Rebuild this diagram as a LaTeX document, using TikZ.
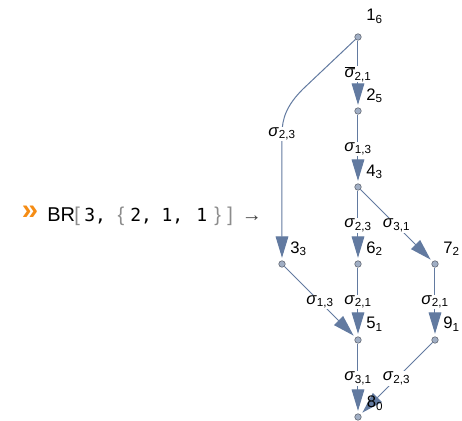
\documentclass[tikz,border=0pt]{standalone}
\usepackage{fontspec}
\setmainfont{Liberation Sans}
\newfontfamily\monofont{DejaVu Sans Mono}
\usepackage{tikz}
\usetikzlibrary{arrows.meta}

\definecolor{edgeblue}{RGB}{98,122,160}
\definecolor{vtxfill}{RGB}{160,174,196}
\definecolor{vtxdraw}{RGB}{85,90,100}
\definecolor{promptorange}{RGB}{245,140,20}
\definecolor{brgrey}{RGB}{140,140,140}

\newcommand{\sig}[1]{\textit{σ}\textsubscript{#1}}
\newcommand{\sigbar}[1]{$\overline{\mbox{\itshape σ}}$\textsubscript{#1}}
\newcommand{\mono}[1]{{\monofont\fontsize{13.5}{16}\selectfont #1}}

\begin{document}
\begin{tikzpicture}[x=0.75pt,y=-0.75pt,
    vtx/.style={shape=circle, inner sep=0pt, minimum size=4.9pt, draw=vtxdraw, fill=vtxfill, line width=0.4pt},
    vlab/.style={anchor=base west, inner sep=0pt, font=\fontsize{12.5}{14}\selectfont},
    elab/.style={fill=white, inner sep=0.5pt, font=\fontsize{12.5}{14}\selectfont},
    edge/.style={draw=edgeblue, line width=0.75pt, -{Triangle[length=16pt,width=9.5pt]}, shorten >=2pt}]
    \useasboundingbox (0,0) rectangle (462,421);

    % input line
    \node[text=promptorange, font=\fontsize{22}{24}\bfseries] (prompt) at (30,213) {»};
    \node[anchor=base west, inner sep=0pt, font=\fontsize{15}{17}\selectfont] (cmd) at (47,221)
      {\makebox[20.25pt][l]{BR}\makebox[7.5pt][l]{\color{brgrey}[}%
       \makebox[25pt][l]{\mono{3,}}%
       \makebox[9.5pt][l]{\color{brgrey}\{}%
       \makebox[23.5pt][l]{\mono{2,}}%
       \makebox[26pt][l]{\mono{1,}}%
       \makebox[13.5pt][l]{\mono{1}}%
       \makebox[9.75pt][l]{\color{brgrey}\}}%
       \makebox[11pt][l]{\color{brgrey}]}{\color{darkgray}→}};

    % vertices
    \node[vtx] (n1) at (358,37) {};
    \node[vtx] (n2) at (358,111) {};
    \node[vtx] (n4) at (358,187) {};
    \node[vtx] (n3) at (282,264) {};
    \node[vtx] (n6) at (358,264) {};
    \node[vtx] (n7) at (435,264) {};
    \node[vtx] (n5) at (358,340) {};
    \node[vtx] (n9) at (435,340) {};
    \node[vtx] (n8) at (358,417) {};

    % edges
    \draw[edge] (n1) -- node[elab] (e12) {\sigbar{2,1}} (n2);
    \draw[edge] (n2) -- node[elab] (e24) {\sig{1,3}} (n4);
    \draw[edge] (n1) -- (303,89) .. controls (287,105) and (282,118) .. (282,134)
        -- node[elab,pos=0] (e13) {\sig{2,3}} (n3);
    \draw[edge] (n4) -- node[elab] (e46) {\sig{2,3}} (n6);
    \draw[edge] (n4) -- node[elab] (e47) {\sig{3,1}} (n7);
    \draw[edge] (n3) -- node[elab] (e35) {\sig{1,3}} (n5);
    \draw[edge] (n6) -- node[elab] (e65) {\sig{2,1}} (n5);
    \draw[edge] (n7) -- node[elab] (e79) {\sig{2,1}} (n9);
    \draw[edge] (n5) -- node[elab] (e58) {\sig{3,1}} (n8);
    \draw[edge] (n9) -- node[elab] (e98) {\sig{2,3}} (n8);

    % vertex labels
    \node[vlab] (l1) at ([xshift=6pt,yshift=12pt]n1) {1\textsubscript{6}};
    \node[vlab] (l2) at ([xshift=6pt,yshift=8.25pt]n2) {2\textsubscript{5}};
    \node[vlab] (l4) at ([xshift=6pt,yshift=8.25pt]n4) {4\textsubscript{3}};
    \node[vlab] (l3) at ([xshift=6pt,yshift=8.25pt]n3) {3\textsubscript{3}};
    \node[vlab] (l6) at ([xshift=6pt,yshift=8.25pt]n6) {6\textsubscript{2}};
    \node[vlab] (l7) at ([xshift=6pt,yshift=8.25pt]n7) {7\textsubscript{2}};
    \node[vlab] (l5) at ([xshift=6pt,yshift=8.25pt]n5) {5\textsubscript{1}};
    \node[vlab] (l9) at ([xshift=6pt,yshift=8.25pt]n9) {9\textsubscript{1}};
    \node[vlab] (l8) at ([xshift=6.5pt,yshift=7pt]n8) {8\textsubscript{0}};
\end{tikzpicture}
\end{document}
